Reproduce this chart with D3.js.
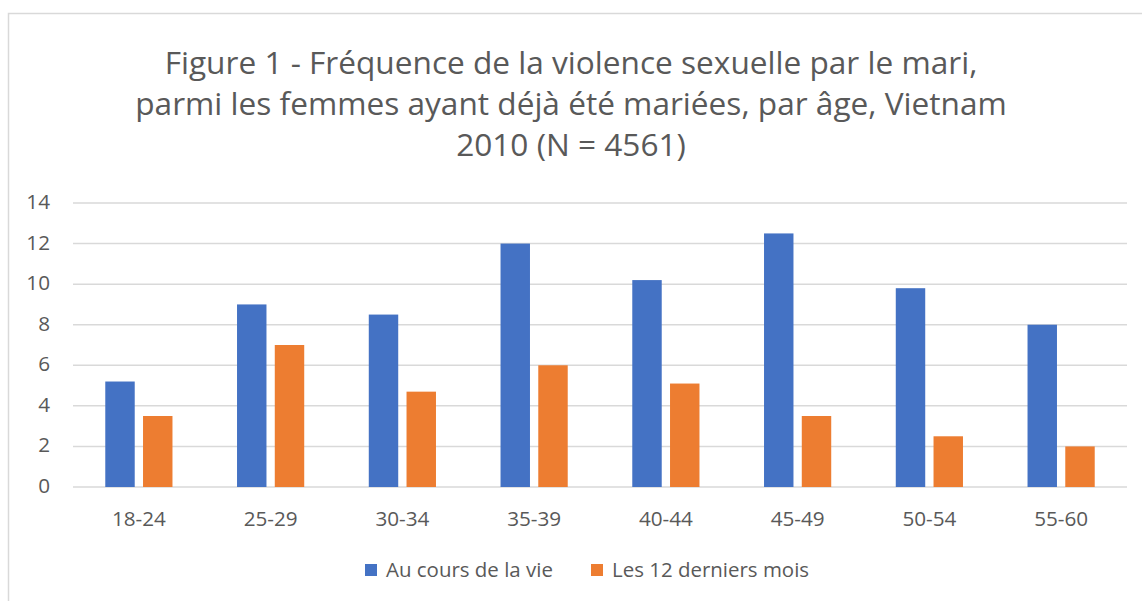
<!DOCTYPE html>
<html>
<head>
<meta charset="utf-8">
<script src="https://cdn.jsdelivr.net/npm/d3@7"></script>
<style>
  body { margin: 0; background: #fff; }
  svg { display: block; font-family: "Open Sans", Lato, sans-serif; }
</style>
</head>
<body>
<div id="chart"></div>
<script>
const ageGroups = ['18-24', '25-29', '30-34', '35-39', '40-44', '45-49', '50-54', '55-60'];
const lifetime = [5.2, 9.0, 8.5, 12.0, 10.2, 12.5, 9.8, 8.0];
const last12Months = [3.5, 7.0, 4.7, 6.0, 5.1, 3.5, 2.5, 2.0];
const seriesNames = ['Au cours de la vie', 'Les 12 derniers mois'];
const yTicks = [0, 2, 4, 6, 8, 10, 12, 14];
const titleLines = [
    'Figure 1 - Fréquence de la violence sexuelle par le mari,',
    'parmi les femmes ayant déjà été mariées, par âge, Vietnam',
    '2010 (N = 4561)'
];

const width = 1142, height = 601;
const margin = { left: 73, right: 15, top: 203, bottom: 114 };
const colors = ['#4472C4', '#ED7D31'];
const textColor = '#595959';

const svg = d3.select('#chart').append('svg')
    .attr('width', width)
    .attr('height', height);

// scale a text's font size so it spans roughly the width seen in the reference
function fitFont(sel, base, target) {
    const w = sel.node().getComputedTextLength();
    return base * target / w;
}

// chart frame
svg.append('rect')
    .attr('x', 8.5).attr('y', 13.5)
    .attr('width', width + 20).attr('height', height + 20)
    .attr('fill', '#fff')
    .attr('stroke', '#d9d9d9')
    .attr('stroke-width', 1.5);

const x0 = d3.scaleBand()
    .domain(ageGroups)
    .range([margin.left, width - margin.right])
    .paddingInner(0.49)
    .paddingOuter(0.245);

const x1 = d3.scaleBand()
    .domain(seriesNames)
    .range([0, x0.bandwidth()])
    .paddingInner(0.22);

const y = d3.scaleLinear()
    .domain([0, 14])
    .range([height - margin.bottom, margin.top]);

// measure label size once
const probe = svg.append('text').style('font-size', '20px').text('18-24');
const tickSize = fitFont(probe, 20, 54);
probe.remove();

// gridlines
svg.append('g')
    .selectAll('line')
    .data(yTicks)
    .enter().append('line')
    .attr('x1', margin.left)
    .attr('x2', width - margin.right)
    .attr('y1', d => y(d))
    .attr('y2', d => y(d))
    .attr('stroke', '#d9d9d9')
    .attr('stroke-width', 1.5);

// y labels
svg.append('g')
    .selectAll('text')
    .data(yTicks)
    .enter().append('text')
    .attr('x', 50)
    .attr('y', d => y(d) + 6)
    .attr('text-anchor', 'end')
    .attr('fill', textColor)
    .style('font-size', tickSize + 'px')
    .text(d => d);

// bars
const rows = ageGroups.map((g, i) => ({ group: g, values: [lifetime[i], last12Months[i]] }));

const groups = svg.append('g')
    .selectAll('g')
    .data(rows)
    .enter().append('g')
    .attr('transform', d => `translate(${x0(d.group)},0)`);

groups.selectAll('rect')
    .data(d => d.values.map((v, j) => ({ name: seriesNames[j], value: v, j })))
    .enter().append('rect')
    .attr('x', d => x1(d.name))
    .attr('y', d => y(d.value))
    .attr('width', x1.bandwidth())
    .attr('height', d => y(0) - y(d.value))
    .attr('fill', d => colors[d.j]);

// x labels
svg.append('g')
    .selectAll('text')
    .data(ageGroups)
    .enter().append('text')
    .attr('x', d => x0(d) + x0.bandwidth() / 2)
    .attr('y', 526)
    .attr('text-anchor', 'middle')
    .attr('fill', textColor)
    .style('font-size', tickSize + 'px')
    .text(d => d);

// title
const tprobe = svg.append('text').style('font-size', '30px').text(titleLines[1]);
const titleSize = fitFont(tprobe, 30, 872);
tprobe.remove();

svg.append('g')
    .selectAll('text')
    .data(titleLines)
    .enter().append('text')
    .attr('x', 571)
    .attr('y', (d, i) => 74 + i * 41)
    .attr('text-anchor', 'middle')
    .attr('fill', textColor)
    .style('font-size', titleSize + 'px')
    .text(d => d);

// legend
const lprobe = svg.append('text').style('font-size', '20px').text(seriesNames[0]);
const legendSize = fitFont(lprobe, 20, 167);
lprobe.remove();

const legendItems = [
    { name: seriesNames[0], x: 365 },
    { name: seriesNames[1], x: 591 }
];
const legend = svg.append('g')
    .selectAll('g')
    .data(legendItems)
    .enter().append('g')
    .attr('transform', d => `translate(${d.x},564)`);

legend.append('rect')
    .attr('width', 12).attr('height', 12)
    .attr('fill', (d, i) => colors[i]);

legend.append('text')
    .attr('x', 21)
    .attr('y', 13)
    .attr('fill', textColor)
    .style('font-size', legendSize + 'px')
    .text(d => d.name);
</script>
</body>
</html>
